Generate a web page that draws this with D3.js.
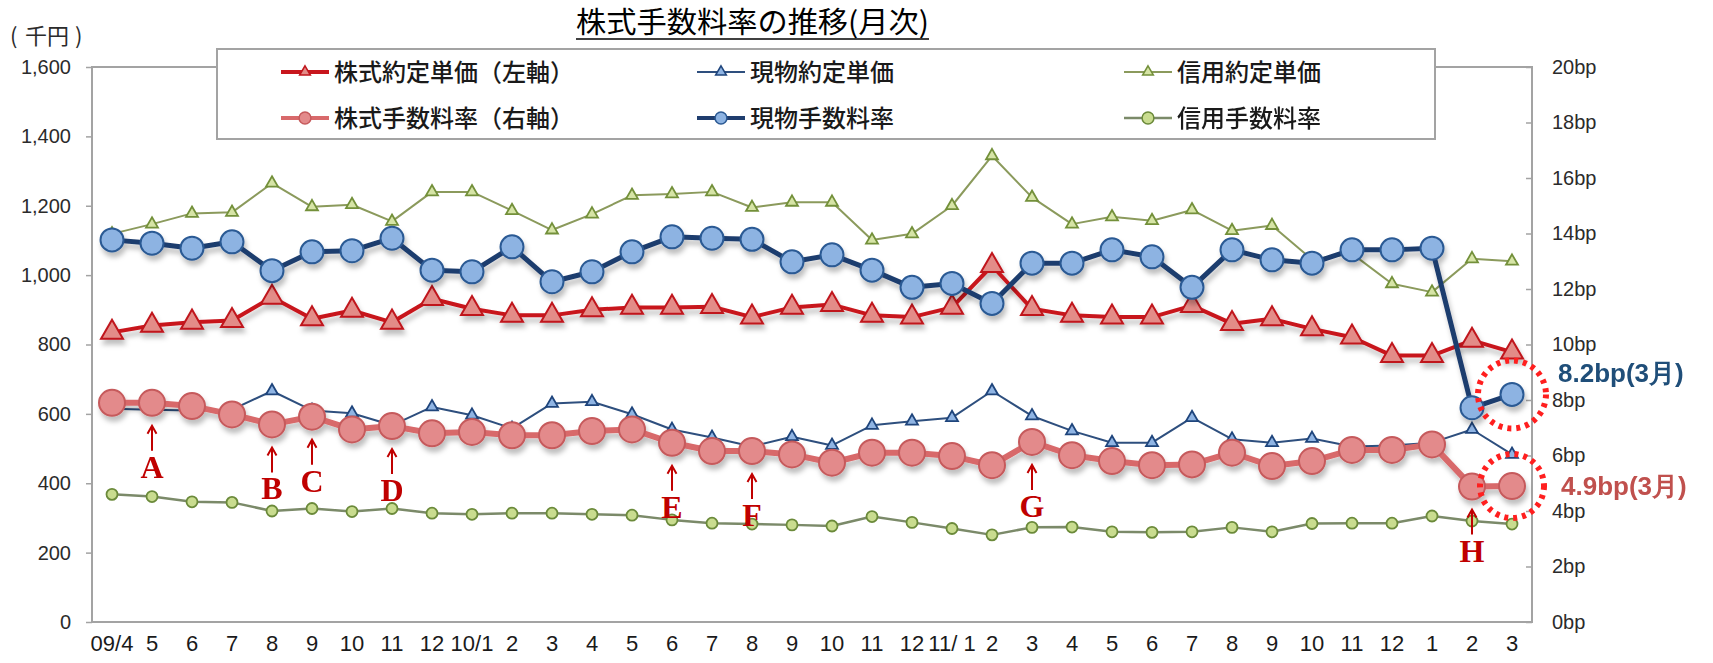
<!DOCTYPE html>
<html>
<head>
<meta charset="utf-8">
<script src="https://cdn.jsdelivr.net/npm/d3@7"></script>
<style>
body { margin:0; background:#fff; }
svg text { font-family: "Liberation Sans", Arial, sans-serif; }
.jp { font-family: "Noto Sans CJK JP", sans-serif; }
</style>
</head>
<body>
<svg id="chart"></svg>
<script>

// months 09/4 - 12/3
var months = ["09/4","5","6","7","8","9","10","11","12","10/1","2","3","4","5","6","7","8","9","10","11","12",
              "11/ 1","2","3","4","5","6","7","8","9","10","11","12","1","2","3"];

// left axis (千円)
var kabuTanka     = [835,855,864,869,936,874,898,864,932,903,884,884,900,907,907,909,879,907,915,884,879,907,1027,903,884,879,879,912,860,874,845,821,768,768,812,778];
var genbutsuTanka = [615,612,610,612,666,610,602,567,620,596,558,630,635,599,555,532,506,534,509,567,579,589,666,594,551,517,517,589,527,517,529,506,509,517,555,483];
var shinyoTanka   = [1119,1147,1178,1181,1265,1197,1203,1155,1240,1240,1186,1130,1176,1230,1234,1240,1195,1210,1210,1101,1119,1200,1344,1224,1147,1168,1157,1188,1128,1143,1045,1062,975,951,1047,1040];

// right axis (bp)
var kabuRate     = [7.90,7.90,7.78,7.48,7.12,7.40,6.94,7.06,6.80,6.85,6.73,6.73,6.88,6.94,6.46,6.16,6.16,6.04,5.74,6.10,6.10,5.98,5.65,6.49,6.01,5.80,5.65,5.68,6.10,5.62,5.80,6.20,6.20,6.40,4.88,4.90];
var genbutsuRate = [13.77,13.65,13.47,13.70,12.66,13.34,13.38,13.83,12.68,12.62,13.52,12.26,12.62,13.34,13.88,13.83,13.79,12.98,13.23,12.68,12.06,12.20,11.48,12.93,12.93,13.41,13.16,12.06,13.41,13.05,12.93,13.41,13.41,13.47,7.72,8.20];
var shinyoRate   = [4.60,4.52,4.33,4.31,4.00,4.09,3.98,4.09,3.92,3.88,3.92,3.92,3.88,3.85,3.68,3.56,3.53,3.50,3.46,3.80,3.59,3.37,3.14,3.41,3.42,3.25,3.23,3.25,3.41,3.25,3.55,3.56,3.56,3.82,3.64,3.53];

var leftTicks  = [0,200,400,600,800,1000,1200,1400,1600];
var rightTicks = [0,2,4,6,8,10,12,14,16,18,20];

var noteLabels = ["A","B","C","D","E","F","G","H"];
var noteIndex  = [1,4,5,7,14,16,23,34];

var screen = {width:1713, height:663};
var margins = {top:67, right:181, bottom:41, left:92};
var width = screen.width - margins.left - margins.right;
var height = screen.height - margins.top - margins.bottom;

var svg = d3.select("#chart")
    .attr("width", screen.width)
    .attr("height", screen.height);

var defs = svg.append("defs");
defs.append("filter").attr("id","shadow")
    .attr("x","-20%").attr("y","-20%").attr("width","140%").attr("height","170%")
    .append("feDropShadow")
    .attr("dx",2).attr("dy",5).attr("stdDeviation",2.5)
    .attr("flood-color","#000").attr("flood-opacity",0.25);

var xScale = d3.scaleBand().domain(d3.range(months.length)).range([0, width]);
var xMid = function(i) { return xScale(i) + xScale.bandwidth() / 2; };
var yLeft = d3.scaleLinear().domain([0,1600]).range([height, 0]);
var yRight = d3.scaleLinear().domain([0,20]).range([height, 0]);

var graph = svg.append("g")
    .attr("id","graph")
    .attr("transform","translate("+margins.left+","+margins.top+")");

// plot frame
graph.append("rect")
    .attr("width", width).attr("height", height)
    .attr("fill","none").attr("stroke","#a3a3a3").attr("stroke-width",2);

// axes
var leftAxis = d3.axisLeft(yLeft).tickValues(leftTicks).tickFormat(d3.format(",")).tickSize(6).tickPadding(15);
var rightAxis = d3.axisRight(yRight).tickValues(rightTicks).tickFormat(function(d){ return d+"bp"; }).tickSize(-6).tickPadding(20);
var bottomAxis = d3.axisBottom(xScale).tickFormat(function(i){ return months[i]; }).tickSize(0).tickPadding(13);

graph.append("g").attr("class","axis").call(leftAxis);
graph.append("g").attr("class","axis").attr("transform","translate("+width+",0)").call(rightAxis);
graph.append("g").attr("class","axis xaxis").attr("transform","translate(0,"+height+")").call(bottomAxis);

graph.selectAll(".axis .domain").remove();
graph.selectAll(".axis line").attr("stroke","#a3a3a3").attr("stroke-width",1.5);
graph.selectAll(".axis text").attr("fill","#2b2b2b").style("font-size","20px");
graph.selectAll(".xaxis text").style("font-size","22px").attr("fill","#1a1a1a");

// series table
var series = [
    {name:"株式約定単価（左軸）", values:kabuTanka, y:yLeft, color:"#c8161d", lw:4, shape:"tri", size:209, fill:"#e38c88", stroke:"#c0161d", shadow:true},
    {name:"現物約定単価", values:genbutsuTanka, y:yLeft, color:"#2e4f7e", lw:2, shape:"tri", size:62, fill:"#8fb4e3", stroke:"#1f457c", shadow:false},
    {name:"信用約定単価", values:shinyoTanka, y:yLeft, color:"#8b9a5c", lw:2, shape:"tri", size:62, fill:"#d6e4a6", stroke:"#73903a", shadow:false},
    {name:"株式手数料率（右軸）", values:kabuRate, y:yRight, color:"#d8696b", lw:6, shape:"circle", r:13, fill:"#e38a8b", stroke:"#c65a5c", shadow:true},
    {name:"現物手数料率", values:genbutsuRate, y:yRight, color:"#1f3d6e", lw:5, shape:"circle", r:11.5, fill:"#8db3e2", stroke:"#2c5a94", shadow:true},
    {name:"信用手数料率", values:shinyoRate, y:yRight, color:"#7b8a69", lw:2.5, shape:"circle", r:5.5, fill:"#c9dc8f", stroke:"#6b8a3a", shadow:false}
];

var drawSeries = function(s)
{
    var g = graph.append("g");
    if (s.shadow) { g.attr("filter","url(#shadow)"); }

    var lineGen = d3.line()
        .x(function(d,i){ return xMid(i); })
        .y(function(d){ return s.y(d); });

    g.append("path")
        .datum(s.values)
        .attr("d", lineGen)
        .attr("fill","none")
        .attr("stroke", s.color)
        .attr("stroke-width", s.lw)
        .attr("stroke-linejoin","round");

    if (s.shape == "tri") {
        g.selectAll("path.mark")
            .data(s.values)
            .enter().append("path")
            .attr("class","mark")
            .attr("d", d3.symbol(d3.symbolTriangle, s.size))
            .attr("transform", function(d,i){ return "translate("+xMid(i)+","+s.y(d)+")"; })
            .attr("fill", s.fill)
            .attr("stroke", s.stroke)
            .attr("stroke-width", s.size > 100 ? 2 : 1.8);
    } else {
        g.selectAll("circle")
            .data(s.values)
            .enter().append("circle")
            .attr("cx", function(d,i){ return xMid(i); })
            .attr("cy", function(d){ return s.y(d); })
            .attr("r", s.r)
            .attr("fill", s.fill)
            .attr("stroke", s.stroke)
            .attr("stroke-width", s.r > 8 ? 2 : 1.8);
    }
};

series.forEach(drawSeries);

// annotations A-H
var notes = graph.append("g").selectAll("g")
    .data(noteLabels)
    .enter().append("g")
    .attr("transform", function(d,i){
        var k = noteIndex[i];
        return "translate("+xMid(k)+","+(yRight(kabuRate[k]) + 23)+")";
    });

notes.append("path")
    .attr("d","M0,0 L0,25 M-4.5,8 L0,0 L4.5,8")
    .attr("fill","none").attr("stroke","#c00000").attr("stroke-width",2);

notes.append("text")
    .text(function(d){ return d; })
    .attr("y", 52)
    .attr("text-anchor","middle")
    .attr("fill","#c00000")
    .style("font-family","'Liberation Serif', 'Times New Roman', serif")
    .style("font-weight","bold")
    .style("font-size","32px");

// dotted circles round March values
var last = months.length - 1;
graph.append("circle")
    .attr("cx", xMid(last)).attr("cy", yRight(genbutsuRate[last]))
    .attr("r", 34)
    .attr("fill","none").attr("stroke","#ff1f1f").attr("stroke-width",6).attr("stroke-dasharray","4 5");
graph.append("circle")
    .attr("cx", xMid(last)).attr("cy", yRight(kabuRate[last]))
    .attr("r", 32)
    .attr("fill","none").attr("stroke","#ff1f1f").attr("stroke-width",6).attr("stroke-dasharray","4 5");

graph.append("text")
    .text(d3.format(".1f")(genbutsuRate[last])+"bp(3月)")
    .attr("x", width + 26).attr("y", yRight(genbutsuRate[last]) - 12)
    .attr("fill","#1f4e79")
    .style("font-weight","bold").style("font-size","26px");
graph.append("text")
    .text(d3.format(".1f")(kabuRate[last])+"bp(3月)")
    .attr("x", width + 29).attr("y", yRight(kabuRate[last]) + 9)
    .attr("fill","#c0504d")
    .style("font-weight","bold").style("font-size","26px");

// legend
var legend = svg.append("g").attr("id","legend");
legend.append("rect")
    .attr("x",217).attr("y",49).attr("width",1218).attr("height",90)
    .attr("fill","#fff").attr("stroke","#a3a3a3").attr("stroke-width",2);

var legendCols = [281, 697, 1124];
var legendRows = [72, 118];

var items = legend.selectAll("g.item")
    .data(series)
    .enter().append("g")
    .attr("class","item")
    .attr("transform", function(d,i){
        return "translate("+legendCols[i % 3]+","+legendRows[Math.floor(i / 3)]+")";
    });

items.append("line")
    .attr("x1",0).attr("x2",48)
    .attr("stroke", function(d){ return d.color; })
    .attr("stroke-width", function(d){ return Math.min(d.lw, 4); });

items.append("path")
    .attr("d", function(d){
        return d.shape == "tri" ? d3.symbol(d3.symbolTriangle, 50)() : d3.symbol(d3.symbolCircle, 110)();
    })
    .attr("transform","translate(24,0)")
    .attr("fill", function(d){ return d.fill; })
    .attr("stroke", function(d){ return d.stroke; })
    .attr("stroke-width",1.5);

items.append("text")
    .text(function(d){ return d.name; })
    .attr("class","jp")
    .attr("x",53).attr("y",8.5)
    .attr("fill","#1a1a1a")
    .style("font-size","24px")
    .style("font-weight","500");

// title and unit
svg.append("text")
    .text("株式手数料率の推移(月次)")
    .attr("class","jp")
    .attr("x",576).attr("y",33)
    .attr("textLength",353).attr("lengthAdjust","spacingAndGlyphs")
    .attr("fill","#000")
    .style("font-size","29px");
svg.append("line")
    .attr("x1",576).attr("x2",929).attr("y1",39).attr("y2",39)
    .attr("stroke","#000").attr("stroke-width",1.5);

var unit = svg.append("text")
    .attr("class","jp")
    .attr("y",44)
    .attr("fill","#2b2b2b")
    .style("font-size","22px");
unit.append("tspan").attr("x",10).text("(");
unit.append("tspan").attr("x",25).text("千円");
unit.append("tspan").attr("x",75).text(")");

</script>
</body>
</html>
